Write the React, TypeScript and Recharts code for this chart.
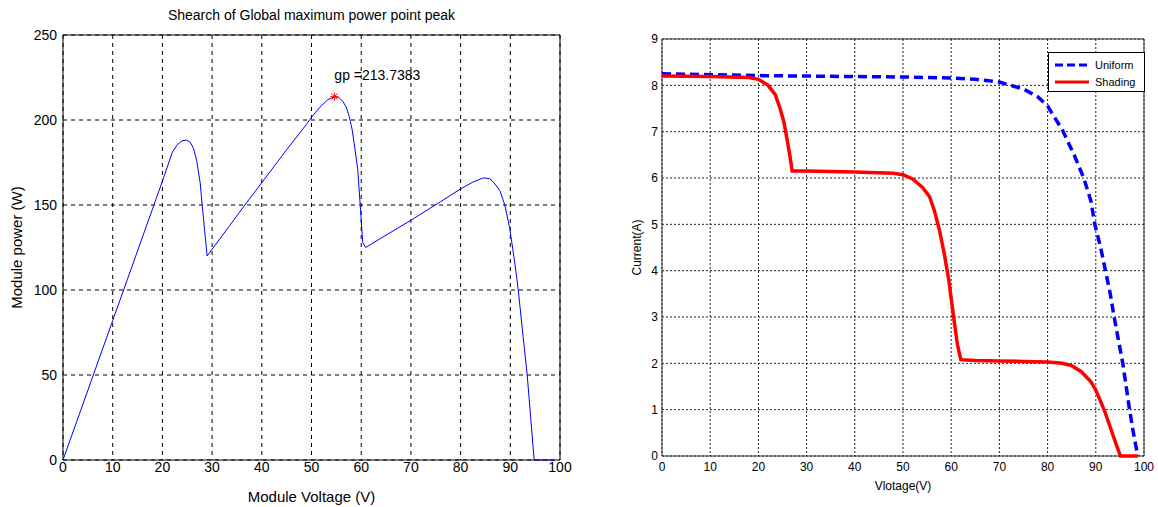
import React from 'react';
import {
  LineChart, Line, XAxis, YAxis, CartesianGrid, ReferenceArea, ReferenceDot, Label
} from 'recharts';

// --- tick labels ---
const voltTicks = [0, 10, 20, 30, 40, 50, 60, 70, 80, 90, 100];
const powerTicks = [0, 50, 100, 150, 200, 250];
const currentTicks = [0, 1, 2, 3, 4, 5, 6, 7, 8, 9];

// --- P-V curve (partial shading, three peaks) ---
const pvVoltage = [
  0, 10, 20, 22, 23, 24, 24.8, 25.6, 26.3, 26.9, 27.6, 28, 28.5, 29,
  36.6, 45, 49, 50.5, 52, 53.3, 54.6, 55.5, 56.3, 57, 57.6, 58.2, 58.6, 59.3, 59.8, 60.3, 60.9,
  63.7, 70, 76, 80, 82.5, 84.6, 85.8, 86.6, 87.9, 88.9, 89.9, 90.9, 91.6, 92.6, 93.4, 94.1, 94.8, 98.6
];
const pvPower = [
  0, 82, 164, 181, 185.5, 187.8, 188.2, 187, 183, 176, 163, 150, 135, 120,
  150, 182.5, 197.5, 203.5, 208.5, 212, 213.7, 213.2, 211, 207.5, 202, 194, 186, 171, 150, 128, 125,
  130, 141, 152, 159.5, 163.5, 166, 165.5, 163.5, 158.5, 150, 136, 116, 100, 72, 50, 25, 0, 0
];

const gmppVoltage = 54.6;
const gmppPower = 213.7383;

// --- I-V curves ---
const uniformVoltage = [
  0, 10, 20, 30, 40, 50, 60, 65, 70, 75, 78, 80, 83, 85.5, 87.5, 89, 89.8, 91, 92, 93, 93.8, 94.7, 95.6, 96.3, 97, 97.8, 98.7
];
const uniformCurrent = [
  8.25, 8.23, 8.21, 8.2, 8.19, 8.18, 8.16, 8.13, 8.07, 7.92, 7.75, 7.55, 7.05, 6.5, 6.0, 5.5, 5.0, 4.5, 4.0, 3.5, 3.0, 2.5, 2.0, 1.5, 1.0, 0.5, 0
];

const shadingVoltage = [
  0, 10, 18, 20, 22, 23.5, 24.5, 25.3, 26, 26.5, 27, 30, 40, 48, 50, 52, 54, 55.5, 56.5, 57.5, 58.5, 59.5, 60.5, 61.3, 62,
  65, 70, 75, 80, 83, 85, 87, 89, 90, 91, 92, 93, 94, 95.1, 98.7
];
const shadingCurrent = [
  8.2, 8.19, 8.17, 8.13, 8.0, 7.8, 7.5, 7.2, 6.8, 6.5, 6.15, 6.15, 6.13, 6.1, 6.07, 5.98, 5.8, 5.6, 5.3, 4.9, 4.4, 3.8, 3.0, 2.4, 2.08,
  2.06, 2.05, 2.04, 2.03, 2.0, 1.95, 1.82, 1.6, 1.42, 1.18, 0.92, 0.62, 0.32, 0, 0
];

const FONT = '"Liberation Sans", Arial, Helvetica, sans-serif';

const pvData = pvVoltage.map((v, i) => ({ v, p: pvPower[i] }));
const uniformData = uniformVoltage.map((v, i) => ({ v, i: uniformCurrent[i] }));
const shadingData = shadingVoltage.map((v, i) => ({ v, i: shadingCurrent[i] }));

const StarMarker = (props: any) => {
  const { cx, cy } = props;
  const s = 4;
  return (
    <g>
      <g stroke="#ff0000" strokeWidth={1}>
        <line x1={cx - s} y1={cy} x2={cx + s} y2={cy} />
        <line x1={cx} y1={cy - s} x2={cx} y2={cy + s} />
        <line x1={cx - 3} y1={cy - 3} x2={cx + 3} y2={cy + 3} />
        <line x1={cx - 3} y1={cy + 3} x2={cx + 3} y2={cy - 3} />
      </g>
      <text x={cx} y={cy - 17} fontSize={14} fontFamily={FONT} fill="#000">
        {`gp =${gmppPower}`}
      </text>
    </g>
  );
};

// legend drawn as an overlay so it doesn't eat into the plot height
const IVLegend = () => (
  <div style={{
    position: 'absolute', left: 1048, top: 52, width: 97, height: 40, border: '1px solid #000', background: '#fff',
    fontFamily: FONT, fontSize: 11, color: '#000', boxSizing: 'border-box', paddingTop: 3
  }}>
    <div style={{ display: 'flex', alignItems: 'center', height: 17 }}>
      <svg width={46} height={8}>
        <line x1={6} y1={4} x2={40} y2={4} stroke="#0000ff" strokeWidth={3} strokeDasharray="8 4" />
      </svg>
      <span>Uniform</span>
    </div>
    <div style={{ display: 'flex', alignItems: 'center', height: 17 }}>
      <svg width={46} height={8}>
        <line x1={6} y1={4} x2={40} y2={4} stroke="#ff0000" strokeWidth={3} />
      </svg>
      <span>Shading</span>
    </div>
  </div>
);

export default function App() {
  return (
    <div style={{ position: 'absolute', left: 0, top: 0, width: 1158, height: 507, background: '#fff', fontFamily: FONT }}>
      <div style={{
        position: 'absolute', left: 63, width: 497, top: 7, textAlign: 'center', fontSize: 14, color: '#000'
      }}>
        Shearch of Global maximum power point peak
      </div>

      {/* --- left: P-V --- */}
      <div style={{ position: 'absolute', left: 0, top: 0 }}>
        <LineChart width={580} height={507} data={pvData} margin={{ top: 35, right: 20, left: 0, bottom: 0 }}>
          <CartesianGrid stroke="#000" strokeDasharray="4 4" />
          <XAxis
            dataKey="v" type="number" domain={[0, 100]} ticks={voltTicks} height={47}
            axisLine={false} tickLine={false} tickSize={2} tickMargin={0}
            tick={{ fontSize: 14, fill: '#000', fontFamily: FONT }} interval={0}
          >
            <Label value="Module Voltage (V)" position="insideBottom" offset={5} style={{ fontSize: 15, fill: '#000', fontFamily: FONT }} />
          </XAxis>
          <YAxis
            type="number" domain={[0, 250]} ticks={powerTicks} width={63}
            axisLine={false} tickLine={false} tickSize={4} tickMargin={2}
            tick={{ fontSize: 14, fill: '#000', fontFamily: FONT }} interval={0}
          >
            <Label value="Module power (W)" angle={-90} position="insideLeft" offset={17} style={{ fontSize: 15, fill: '#000', fontFamily: FONT, textAnchor: 'middle' }} />
          </YAxis>
          <ReferenceArea x1={0} x2={100} y1={0} y2={250} fill="none" stroke="#000" strokeWidth={1} fillOpacity={0} />
          <Line dataKey="p" type="linear" stroke="#0000ff" strokeWidth={1} dot={false} isAnimationActive={false} />
          <ReferenceDot x={gmppVoltage} y={gmppPower} shape={StarMarker} />
        </LineChart>
      </div>

      {/* --- right: I-V --- */}
      <div style={{ position: 'absolute', left: 580, top: 0 }}>
        <LineChart width={578} height={507} margin={{ top: 39, right: 14, left: 0, bottom: 0 }}>
          <CartesianGrid stroke="#222" strokeDasharray="2 2" />
          <XAxis
            dataKey="v" type="number" domain={[0, 100]} ticks={voltTicks} height={51}
            axisLine={false} tickLine={false} tickSize={4} tickMargin={2}
            tick={{ fontSize: 12, fill: '#000', fontFamily: FONT }} interval={0} allowDuplicatedCategory={false}
          >
            <Label value="Vlotage(V)" position="insideBottom" offset={17} style={{ fontSize: 12, fill: '#000', fontFamily: FONT }} />
          </XAxis>
          <YAxis
            type="number" domain={[0, 9]} ticks={currentTicks} width={82}
            axisLine={false} tickLine={false} tickSize={2} tickMargin={2}
            tick={{ fontSize: 12, fill: '#000', fontFamily: FONT }} interval={0}
          >
            <Label value="Current(A)" angle={-90} position="insideLeft" offset={57} style={{ fontSize: 12, fill: '#000', fontFamily: FONT, textAnchor: 'middle' }} />
          </YAxis>
          <ReferenceArea x1={0} x2={100} y1={0} y2={9} fill="none" stroke="#333" strokeWidth={1} fillOpacity={0} />
          <Line data={uniformData} dataKey="i" name="Uniform" type="linear" stroke="#0000ff" strokeWidth={3.5} strokeDasharray="9 5" dot={false} isAnimationActive={false} />
          <Line data={shadingData} dataKey="i" name="Shading" type="linear" stroke="#ff0000" strokeWidth={3.5} dot={false} isAnimationActive={false} />
        </LineChart>
      </div>
      <IVLegend />
    </div>
  );
}
